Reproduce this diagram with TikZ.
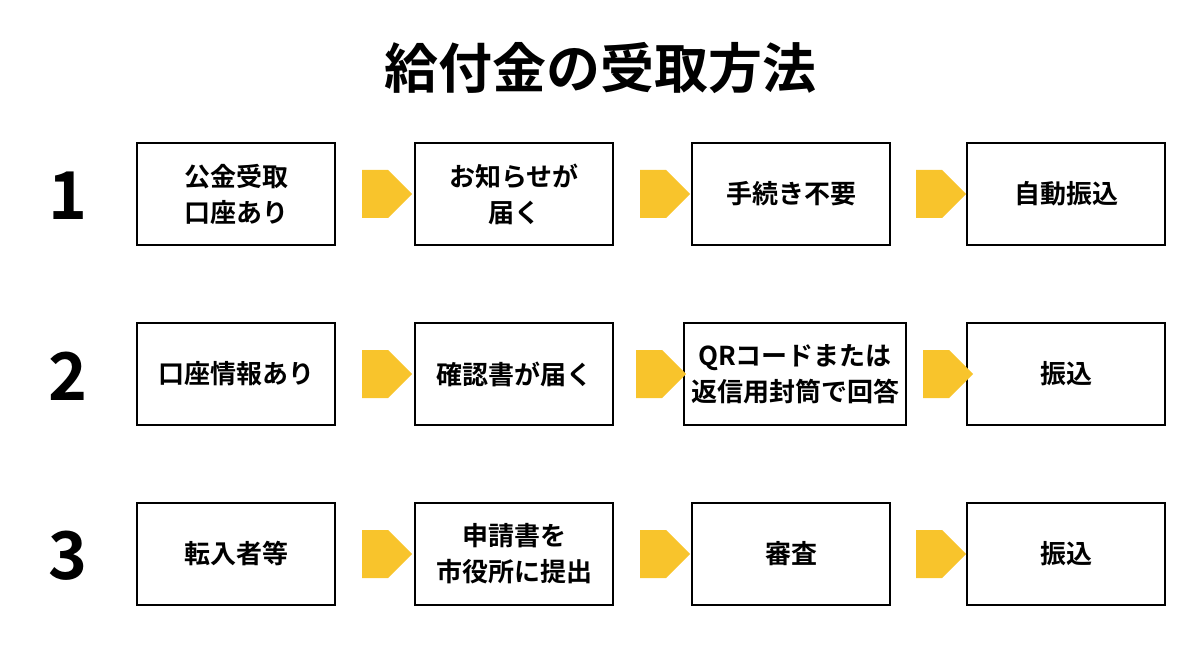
\documentclass[tikz,border=0pt]{standalone}
\usepackage{fontspec}
\setmainfont{Noto Sans CJK JP}[BoldFont={* Bold}]
\usetikzlibrary{shapes.arrows}
\definecolor{arrowyellow}{HTML}{F8C42C}
\begin{document}
\begin{tikzpicture}[
			x=1pt, y=-1pt,
			box/.style={draw, line width=1.2pt, minimum height=102pt, minimum width=198pt, align=center, inner sep=2pt, font=\bfseries\fontsize{26}{36}\selectfont},
			wide/.style={box, minimum width=222pt},
			go/.style={single arrow, fill=arrowyellow, minimum height=50pt, minimum width=48pt, single arrow head extend=0pt, inner sep=0pt, single arrow head indent=0pt, shape border uses incircle=false},
			num/.style={font=\bfseries\fontsize{66}{66}\selectfont}
			]
			\useasboundingbox (0,0) rectangle (1200,655);
			\node[font=\bfseries\fontsize{54}{60}\selectfont] (title) at (600,68) {給付金の受取方法};
			% row 1
			\node[num] (n1) at (68,196) {1};
			\node[box] (a1) at (236,194) {公金受取\\口座あり};
			\node[box] (b1) at (514,194) {お知らせが\\届く};
			\node[box] (c1) at (791,194) {手続き不要};
			\node[box] (d1) at (1066,194) {自動振込};
			% row 2
			\node[num] (n2) at (68,376) {2};
			\node[box] (a2) at (236,374) {口座情報あり};
			\node[box] (b2) at (514,374) {確認書が届く};
			\node[wide] (c2) at (795,374) {QRコードまたは\\返信用封筒で回答};
			\node[box] (d2) at (1066,374) {振込};
			% row 3
			\node[num] (n3) at (68,556) {3};
			\node[box] (a3) at (236,554) {転入者等};
			\node[box] (b3) at (514,554) {申請書を\\市役所に提出};
			\node[box] (c3) at (791,554) {審査};
			\node[box] (d3) at (1066,554) {振込};
			% arrows
			\node[go] (g11) at (375,194) {};
			\node[go] (g12) at (653,194) {};
			\node[go] (g13) at (929,194) {};
			\node[go] (g21) at (375,374) {};
			\node[go] (g22) at (649,374) {};
			\node[go] (g23) at (936,374) {};
			\node[go] (g31) at (375,554) {};
			\node[go] (g32) at (653,554) {};
			\node[go] (g33) at (929,554) {};
\end{tikzpicture}
\end{document}
